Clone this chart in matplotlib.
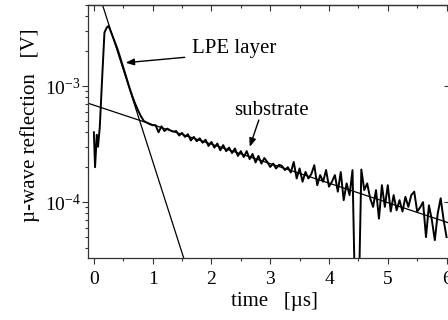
import numpy as np
import matplotlib
matplotlib.use("Agg")
from matplotlib import pyplot as plt
from matplotlib.ticker import MultipleLocator, LogLocator, NullLocator, NullFormatter

plt.rcParams["font.family"] = ["Liberation Serif", "DejaVu Serif"]
plt.rcParams["mathtext.fontset"] = "custom"
plt.rcParams["mathtext.rm"] = "Liberation Serif"

# measured trace, time in us, signal in units of 1e-4 V
time_early = [0.00, 0.02, 0.05, 0.07, 0.10, 0.14, 0.18, 0.22, 0.25, 0.30,
              0.35, 0.40, 0.45, 0.50, 0.55, 0.60, 0.65, 0.70, 0.75, 0.80,
              0.85, 0.90, 0.95]
signal_early = [4.0, 2.0, 3.8, 3.0, 4.4, 11.5, 29.0, 32.0, 33.0, 28.5,
                24.5, 21.0, 17.5, 14.5, 12.0, 9.9, 8.3, 7.1, 6.2, 5.5,
                5.0, 4.85, 4.7]

time_late = np.linspace(1.0, 6.0, 101)
signal_late = [
    4.60, 4.60, 4.00, 4.50, 4.10, 4.30, 4.15, 4.05, 4.10, 3.75,
    3.95, 3.65, 3.85, 3.40, 3.65, 3.35, 3.55, 3.25, 3.45, 3.05,
    3.30, 2.95, 3.20, 2.80, 3.10, 2.75, 2.95, 2.65, 2.90, 2.50,
    2.75, 2.45, 2.75, 2.35, 2.60, 2.20, 2.50, 2.15, 2.40, 2.22,
    2.01, 2.15, 1.95, 2.10, 2.05, 1.89, 2.00, 1.80, 2.22, 1.60,
    1.95, 1.50, 1.82, 1.60, 1.75, 2.08, 1.40, 1.71, 1.50, 1.89,
    1.36, 1.50, 1.71, 1.23, 1.82, 1.04, 1.45, 1.15, 1.89, 0.10,
    0.10, 1.91, 1.27, 1.45, 1.08, 0.91, 1.27, 0.72, 1.40, 0.91,
    1.40, 0.83, 1.15, 0.85, 1.04, 0.83, 1.11, 0.91, 1.15, 1.23,
    0.83, 0.90, 1.00, 0.50, 0.94, 0.70, 0.47, 0.80, 1.08, 0.70,
    0.50,
]

# exponential fits: amplitude [V], decay time [us]
substrate_amp, substrate_tau = 6.85e-4, 2.585
lpe_amp, lpe_tau = 8.55e-3, 0.275

time = np.concatenate([time_early, time_late])
signal = np.concatenate([signal_early, signal_late]) * 1e-4

fig = plt.figure(figsize=(4.48, 3.2), dpi=100)
ax = fig.add_axes([88 / 448, 62 / 320, 361.5 / 448, 253 / 320])

ax.plot(time, signal, color="black", linewidth=1.4)

t_fit = np.linspace(-0.2, 6.2, 200)
ax.plot(t_fit, substrate_amp * np.exp(-t_fit / substrate_tau), color="black", linewidth=0.9)
ax.plot(t_fit, lpe_amp * np.exp(-t_fit / lpe_tau), color="black", linewidth=0.9)

ax.set_yscale("log")
ax.set_xlim(-0.1, 6.05)
ax.set_ylim(3.3e-5, 5.0e-3)

ax.xaxis.set_major_locator(MultipleLocator(1))
ax.xaxis.set_minor_locator(MultipleLocator(0.5))
ax.yaxis.set_major_locator(LogLocator(base=10))
ax.yaxis.set_minor_locator(LogLocator(base=10, subs=np.arange(2, 10)))
ax.yaxis.set_minor_formatter(NullFormatter())

ax.tick_params(which="both", direction="out", labelsize=14, color="#333333")
ax.tick_params(which="major", length=4, width=0.8)
ax.tick_params(which="minor", length=2.5, width=0.8)
ax.tick_params(axis="x", pad=5)
ax.tick_params(axis="y", pad=1)

top = ax.secondary_xaxis("top")
top.xaxis.set_major_locator(MultipleLocator(1))
top.xaxis.set_minor_locator(MultipleLocator(0.5))
top.tick_params(which="both", direction="in", labeltop=False, color="#333333")
top.tick_params(which="major", length=4, width=0.8)
top.tick_params(which="minor", length=2.5, width=0.8)

right = ax.secondary_yaxis("right")
right.yaxis.set_major_locator(LogLocator(base=10))
right.yaxis.set_minor_locator(NullLocator())
right.tick_params(which="both", direction="in", labelright=False, length=4, width=0.8, color="#333333")

for sp in list(ax.spines.values()) + [top.spines["top"], right.spines["right"]]:
    sp.set_color("#333333")
    sp.set_linewidth(0.9)

ax.set_xlabel("time   [\u00b5s]", fontsize=15)
ax.xaxis.set_label_coords(0.5145, -0.135)
ax.set_ylabel("\u00b5-wave reflection   [V]", fontsize=15)
ax.yaxis.set_label_coords(-0.132, 0.524)

ax.annotate("", xy=(0.54, 1.59e-3), xytext=(1.545, 1.77e-3),
            arrowprops=dict(arrowstyle="-|>,head_length=0.5,head_width=0.2",
                            color="black", lw=1.0, shrinkA=0, shrinkB=0))
ax.text(1.676, 1.925e-3, "LPE layer", fontsize=15, ha="left", va="baseline")

ax.annotate("", xy=(2.652, 3.0e-4), xytext=(2.806, 5.1e-4),
            arrowprops=dict(arrowstyle="-|>,head_length=0.5,head_width=0.2",
                            color="black", lw=1.0, shrinkA=0, shrinkB=0))
ax.text(2.38, 5.62e-4, "substrate", fontsize=15, ha="left", va="baseline")

fig.savefig("out.png", dpi=100)
